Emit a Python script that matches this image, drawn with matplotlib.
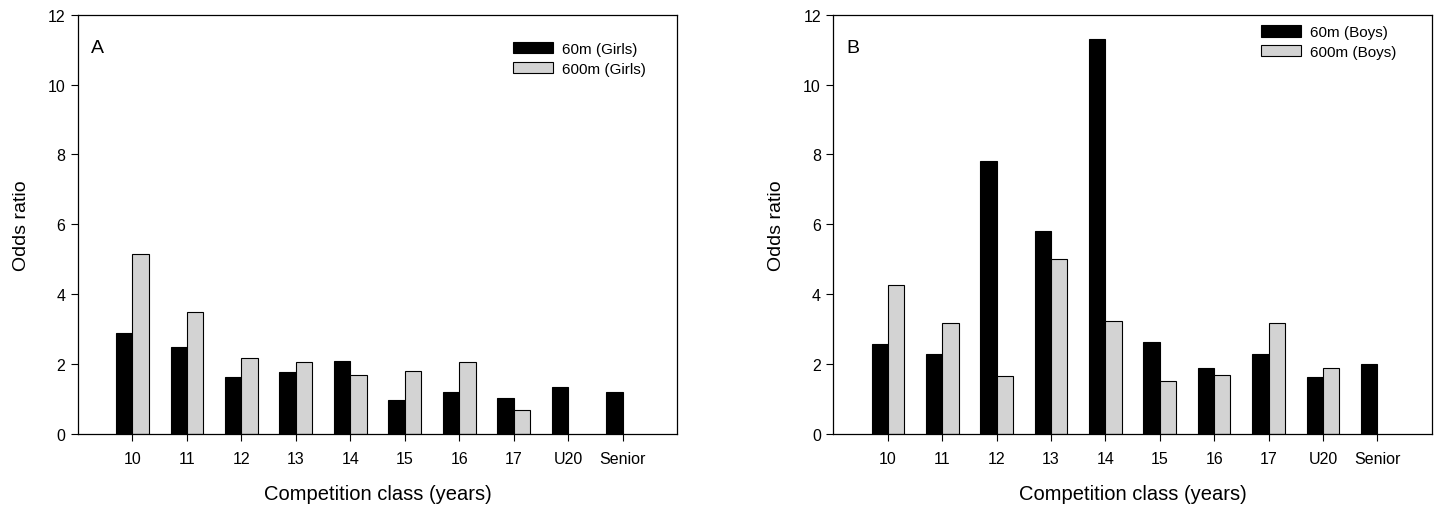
import numpy as np
import matplotlib
matplotlib.use('Agg')
import matplotlib.pyplot as plt
from matplotlib.font_manager import findfont, FontProperties

classes = ['10', '11', '12', '13', '14', '15', '16', '17', 'U20', 'Senior']

# Panel A: girls
girls_60m = [2.9, 2.5, 1.62, 1.78, 2.1, 0.98, 1.2, 1.02, 1.35, 1.2]
girls_600m = [5.15, 3.5, 2.17, 2.07, 1.7, 1.8, 2.07, 0.68, np.nan, np.nan]

# Panel B: boys
boys_60m = [2.57, 2.28, 7.82, 5.82, 11.3, 2.62, 1.88, 2.28, 1.63, 2.0]
boys_600m = [4.27, 3.18, 1.67, 5.0, 3.22, 1.52, 1.7, 3.18, 1.88, np.nan]

# narrow Arial-like face if present
fam = 'Liberation Sans Narrow'
try:
  findfont(FontProperties(family=fam), fallback_to_default=False)
except Exception:
  fam = 'Liberation Sans'
plt.rcParams['font.family'] = [fam, 'DejaVu Sans']

fig = plt.figure(figsize=(14.38, 5.06), dpi=100)

def panel(rect, letter, s60, s600, names, leg_xy):
  ax = fig.add_axes(rect)
  x = np.arange(len(classes))
  w = 0.30
  ax.bar(x - w / 2, s60, w, color='black', edgecolor='black', lw=0.8, label=names[0])
  ax.bar(x + w / 2, s600, w, color='#d3d3d3', edgecolor='black', lw=0.8, label=names[1])
  ax.set_xlim(-1, 10)
  ax.set_ylim(0, 12)
  ax.set_yticks(np.arange(0, 13, 2))
  ax.set_xticks(x)
  ax.set_xticklabels(classes)
  ax.tick_params(direction='out', length=5, width=0.8, labelsize=11.5, pad=7)
  ax.tick_params(axis='y', pad=4)
  for s in ax.spines.values():
    s.set_linewidth(0.9)
  ax.set_ylabel('Odds ratio', fontsize=14, labelpad=13)
  ax.set_xlabel('Competition class (years)', fontsize=14.5, labelpad=13)
  ax.text(0.022, 0.91, letter, transform=ax.transAxes, fontsize=14)
  ax.legend(loc='upper left', bbox_to_anchor=leg_xy, frameon=False, fontsize=11,
            handlelength=2.6, handleheight=0.75, handletextpad=0.6,
            labelspacing=0.35, borderaxespad=0)
  return ax

panel([0.0542, 0.1403, 0.4166, 0.8287], 'A', girls_60m, girls_600m,
      ['60m (Girls)', '600m (Girls)'], (0.716, 0.949))
panel([0.5796, 0.1403, 0.4160, 0.8287], 'B', boys_60m, boys_600m,
      ['60m (Boys)', '600m (Boys)'], (0.705, 0.989))

fig.savefig('out.png', dpi=100)
